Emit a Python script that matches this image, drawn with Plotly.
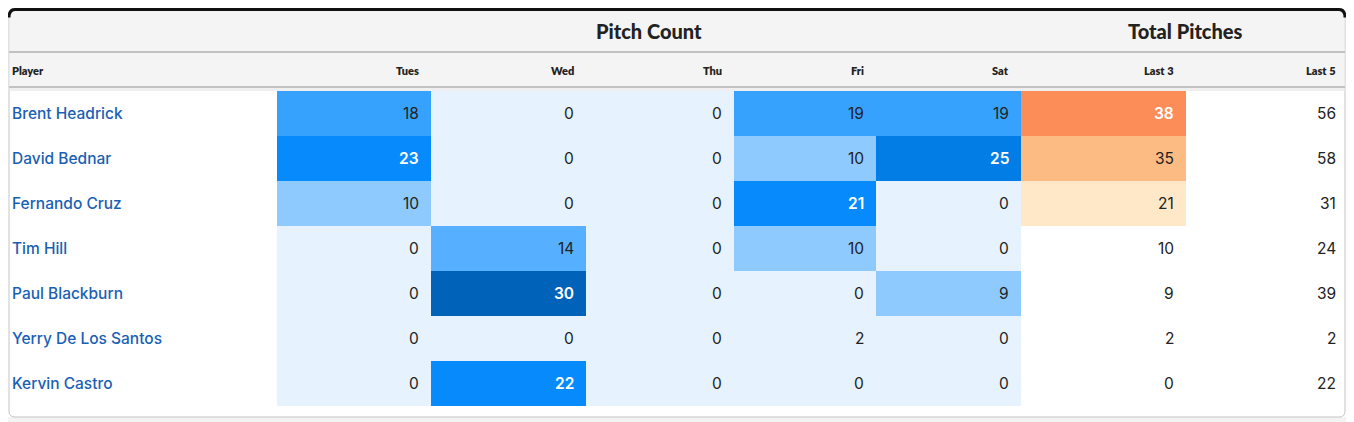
import plotly.graph_objects as go

players = ["Brent Headrick", "David Bednar", "Fernando Cruz", "Tim Hill",
           "Paul Blackburn", "Yerry De Los Santos", "Kervin Castro"]
days = ["Tues", "Wed", "Thu", "Fri", "Sat"]
tues = [18, 23, 10, 0, 0, 0, 0]
wed = [0, 0, 0, 14, 30, 0, 22]
thu = [0, 0, 0, 0, 0, 0, 0]
fri = [19, 10, 21, 10, 0, 2, 0]
sat = [19, 25, 0, 0, 9, 0, 0]
last3 = [38, 35, 21, 10, 9, 2, 0]
last5 = [56, 58, 31, 24, 39, 2, 22]

# layout in window pixels (window is 1354 x 422, the page body adds an 8px margin
# and only about x=8..1346 ends up visible)
W, H = 1354, 422
OFF = 8
ROW_TOP, ROW_H = 91, 45
day_edges = [277, 431, 586, 734, 876, 1021]
last3_edges = [1021, 1186]
last5_right = 1348
PAD = 10

NUM_FONT = "Inter"
NAME_FONT = "Inter"
HEAD_FONT = "Lato"
DARK = "#222222"


def stepped(steps, zmax):
    # steps: list of (start, colour); builds a discrete colourscale
    scale = []
    for i, (start, col) in enumerate(steps):
        end = steps[i + 1][0] if i + 1 < len(steps) else zmax
        scale.append([start / zmax, col])
        scale.append([end / zmax, col])
    return scale


blue_steps = [(0, "#e6f2fd"), (5, "#8ecafe"), (12, "#56b0ff"), (16, "#36a2fe"),
              (20, "#068afc"), (24, "#037de6"), (28, "#0062b8")]
orange_steps = [(0, "#ffffff"), (15, "#fee8c8"), (30, "#fdbb84"), (36, "#fc8d59")]
BLUE_MAX, ORANGE_MAX = 30, 40

day_cols = [tues, wed, thu, fri, sat]
n = len(players)
row_edges = [ROW_TOP + ROW_H * i for i in range(n + 1)]
row_mid = [ROW_TOP + ROW_H * (i + 0.5) for i in range(n)]

fig = go.Figure()

fig.add_trace(go.Heatmap(
    x=day_edges, y=row_edges,
    z=[list(r) for r in zip(*day_cols)],
    colorscale=stepped(blue_steps, BLUE_MAX), zmin=0, zmax=BLUE_MAX,
    showscale=False, hoverinfo="skip"))

fig.add_trace(go.Heatmap(
    x=last3_edges, y=row_edges,
    z=[[v] for v in last3],
    colorscale=stepped(orange_steps, ORANGE_MAX), zmin=0, zmax=ORANGE_MAX,
    showscale=False, hoverinfo="skip"))

ann = []


def num_font(dark_bg):
    return dict(family=NUM_FONT, size=15.5,
                color="white" if dark_bg else DARK,
                weight=600 if dark_bg else 400)


# numbers in cells
for j, col in enumerate(day_cols):
    for i, v in enumerate(col):
        ann.append(dict(x=day_edges[j + 1] - PAD, y=row_mid[i], text=str(v),
                        xanchor="right", yanchor="middle", showarrow=False,
                        font=num_font(v >= 20)))
for i, v in enumerate(last3):
    ann.append(dict(x=last3_edges[1] - PAD, y=row_mid[i], text=str(v),
                    xanchor="right", yanchor="middle", showarrow=False,
                    font=num_font(v >= 36)))
for i, v in enumerate(last5):
    ann.append(dict(x=last5_right - PAD, y=row_mid[i], text=str(v),
                    xanchor="right", yanchor="middle", showarrow=False,
                    font=num_font(False)))

# player names
for i, p in enumerate(players):
    ann.append(dict(x=10, y=row_mid[i], text=p, xanchor="left", yanchor="middle",
                    showarrow=False,
                    font=dict(family=NAME_FONT, size=15.5, color="#1a5fb4", weight=500)))

# column headers
hdr_font = dict(family=HEAD_FONT, size=11, color=DARK, weight=800)
ann.append(dict(x=10, y=70, text="Player", xanchor="left", yanchor="middle",
                showarrow=False, font=hdr_font))
for j, d in enumerate(days):
    ann.append(dict(x=day_edges[j + 1] - PAD, y=70, text=d, xanchor="right",
                    yanchor="middle", showarrow=False, font=hdr_font))
ann.append(dict(x=last3_edges[1] - PAD, y=70, text="Last 3", xanchor="right",
                yanchor="middle", showarrow=False, font=hdr_font))
ann.append(dict(x=last5_right - PAD, y=70, text="Last 5", xanchor="right",
                yanchor="middle", showarrow=False, font=hdr_font))

# group headers
grp_font = dict(family=HEAD_FONT, size=20, color=DARK, weight=900)
ann.append(dict(x=(day_edges[0] + day_edges[-1]) / 2, y=31, text="Pitch Count",
                xanchor="center", yanchor="middle", showarrow=False, font=grp_font))
ann.append(dict(x=1185.5, y=31, text="Total Pitches",
                xanchor="center", yanchor="middle", showarrow=False, font=grp_font))

for a in ann:
    a["xref"] = "x"
    a["yref"] = "y"

# card outline; edges sit just inside the visible part of the page
L, R, T, B, RAD = 9, 1345, 9.5, 417, 6
box_path = (f"M {L} {T + RAD} Q {L} {T} {L + RAD} {T} L {R - RAD} {T} Q {R} {T} {R} {T + RAD} "
            f"L {R} {B - RAD} Q {R} {B} {R - RAD} {B} L {L + RAD} {B} Q {L} {B} {L} {B - RAD} Z")
top_path = f"M {L} {T + RAD + 2} Q {L} {T} {L + RAD} {T} L {R - RAD} {T} Q {R} {T} {R} {T + RAD + 2}"

shapes = [
    dict(type="rect", x0=0, x1=W, y0=B, y1=H, fillcolor="#f3f3f3", line_width=0, layer="below"),
    dict(type="path", path=box_path, fillcolor="white", line=dict(color="#c4c4c4", width=1),
         layer="below"),
    dict(type="rect", x0=L + 0.5, x1=R - 0.5, y0=T + 1, y1=87, fillcolor="#f4f4f4",
         line_width=0, layer="below"),
    dict(type="rect", x0=L + 0.5, x1=R - 0.5, y0=87, y1=ROW_TOP, fillcolor="#efefef",
         line_width=0, layer="below"),
    dict(type="line", x0=L, x1=R, y0=52, y1=52, line=dict(color="#c2c2c2", width=2),
         layer="below"),
    dict(type="line", x0=L, x1=R, y0=87, y1=87, line=dict(color="#c2c2c2", width=2),
         layer="below"),
    dict(type="path", path=top_path, line=dict(color="#111111", width=3), layer="above"),
]

fig.update_layout(
    width=W - OFF, height=H - OFF,
    margin=dict(l=0, r=0, t=0, b=0),
    paper_bgcolor="white", plot_bgcolor="white",
    xaxis=dict(range=[OFF, W], visible=False, fixedrange=True),
    yaxis=dict(range=[H, OFF], visible=False, fixedrange=True),
    annotations=ann, shapes=shapes, showlegend=False,
)

fig.write_html("out.html")
